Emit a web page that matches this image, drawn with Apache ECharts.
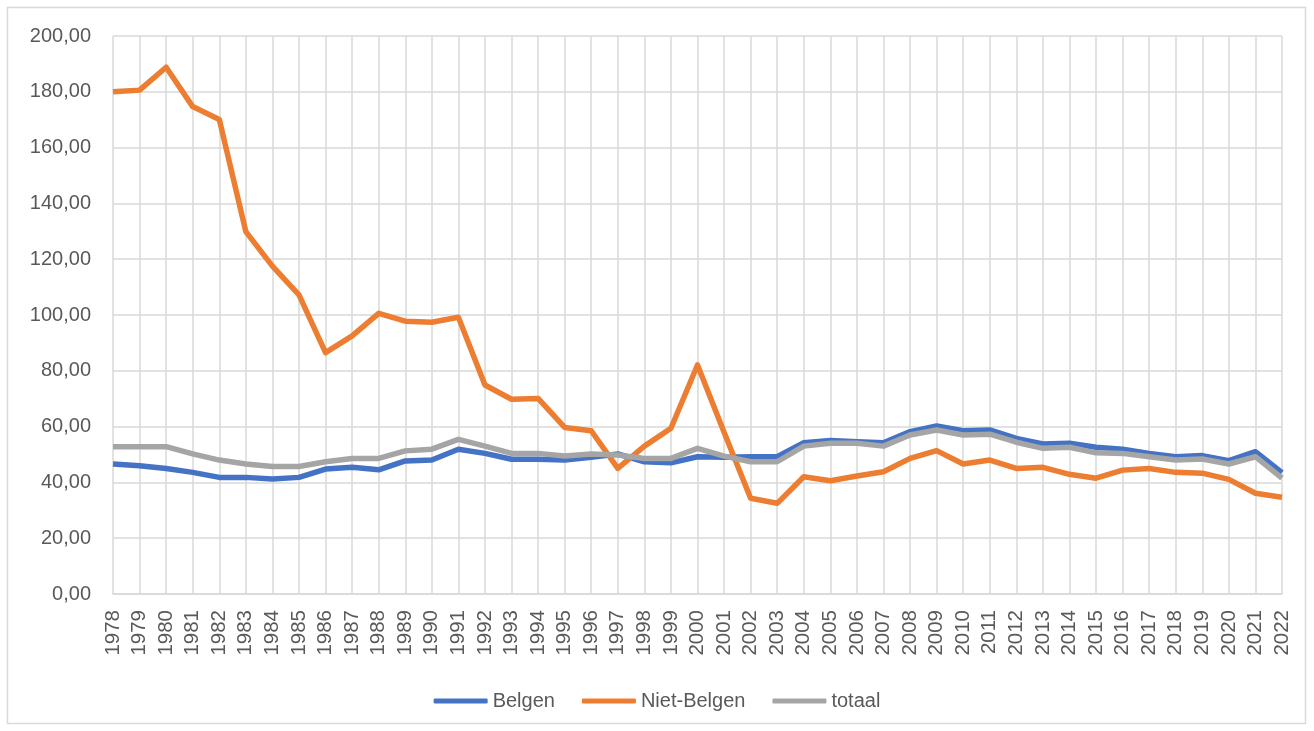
<!DOCTYPE html>
<html>
<head>
<meta charset="utf-8">
<script src="https://cdn.jsdelivr.net/npm/echarts@6/dist/echarts.min.js"></script>
<style>
  html, body { margin: 0; padding: 0; background: #fff; }
  #chart { width: 1314px; height: 731px; }
</style>
</head>
<body>
<div id="chart"></div>
<script>
const years = []
for (let y = 1978; y <= 2022; y++) years.push(String(y))

const belgen = [
  46.6, 46.0, 45.0, 43.6, 41.8, 41.8, 41.2, 41.8, 44.8, 45.4,
  44.5, 47.7, 48.0, 51.9, 50.4, 48.3, 48.3, 48.0, 49.0, 50.2,
  47.4, 47.0, 49.2, 49.0, 49.2, 49.2, 54.2, 55.0, 54.6, 54.2,
  58.2, 60.2, 58.5, 58.8, 55.8, 53.8, 54.0, 52.6, 51.9, 50.4,
  49.2, 49.6, 47.8, 51.0, 43.5,
]

const nietBelgen = [
  180.0, 180.6, 188.8, 174.7, 170.1, 129.9, 117.5, 107.2, 86.5, 92.5,
  100.6, 97.8, 97.4, 99.2, 74.9, 69.8, 70.1, 59.7, 58.5, 45.0,
  53.0, 59.4, 82.1, 58.0, 34.3, 32.5, 42.0, 40.6, 42.3, 43.8,
  48.6, 51.4, 46.6, 48.0, 45.0, 45.4, 42.9, 41.5, 44.4, 45.0,
  43.6, 43.3, 41.1, 36.1, 34.7,
]

const totaal = [
  52.8, 52.8, 52.8, 50.2, 48.0, 46.6, 45.7, 45.7, 47.4, 48.6,
  48.6, 51.3, 51.9, 55.4, 53.0, 50.4, 50.4, 49.5, 50.2, 49.8,
  48.6, 48.6, 52.2, 49.4, 47.4, 47.4, 53.0, 54.0, 54.0, 53.0,
  57.0, 58.8, 57.0, 57.3, 54.4, 52.2, 52.6, 50.6, 50.4, 49.2,
  48.0, 48.4, 46.6, 49.2, 41.5,
]

const seriesNames = ['Belgen', 'Niet-Belgen', 'totaal']
const seriesColors = ['#4472c4', '#ed7d31', '#a5a5a5']
const seriesData = [belgen, nietBelgen, totaal]

const gridColor = '#d9d9d9'
const textColor = '#595959'
const font = 'Liberation Sans'

const chart = echarts.init(document.getElementById('chart'))

chart.setOption({
  animation: false,
  color: seriesColors,
  graphic: [
    {
      type: 'rect',
      shape: { x: 7.5, y: 7.5, width: 1298, height: 716 },
      style: { fill: 'none', stroke: gridColor, lineWidth: 1.5 },
      silent: true,
    },
  ],
  grid: { left: 113, right: 32, top: 36, bottom: 137 },
  legend: {
    top: 686,
    left: 'center',
    icon: 'roundRect',
    itemWidth: 54,
    itemHeight: 5,
    itemGap: 27,
    textStyle: { color: textColor, fontSize: 20, fontFamily: font },
    data: seriesNames,
  },
  xAxis: {
    type: 'category',
    data: years,
    boundaryGap: false,
    axisLine: { lineStyle: { color: gridColor, width: 1.5 } },
    axisTick: { show: false },
    splitLine: { show: true, lineStyle: { color: gridColor, width: 1.5 } },
    axisLabel: {
      interval: 0,
      rotate: 90,
      margin: 16,
      color: textColor,
      fontSize: 20.5,
      fontFamily: font,
    },
  },
  yAxis: {
    type: 'value',
    min: 0,
    max: 200,
    interval: 20,
    axisLine: { show: false },
    axisTick: { show: false },
    splitLine: { lineStyle: { color: gridColor, width: 1.5 } },
    axisLabel: {
      margin: 22,
      color: textColor,
      fontSize: 20,
      fontFamily: font,
      formatter: (v) => v.toFixed(2).replace('.', ','),
    },
  },
  series: seriesNames.map((name, i) => ({
    name,
    type: 'line',
    data: seriesData[i],
    symbol: 'none',
    lineStyle: { width: 5.5, color: seriesColors[i], join: 'round' },
  })),
})
</script>
</body>
</html>
